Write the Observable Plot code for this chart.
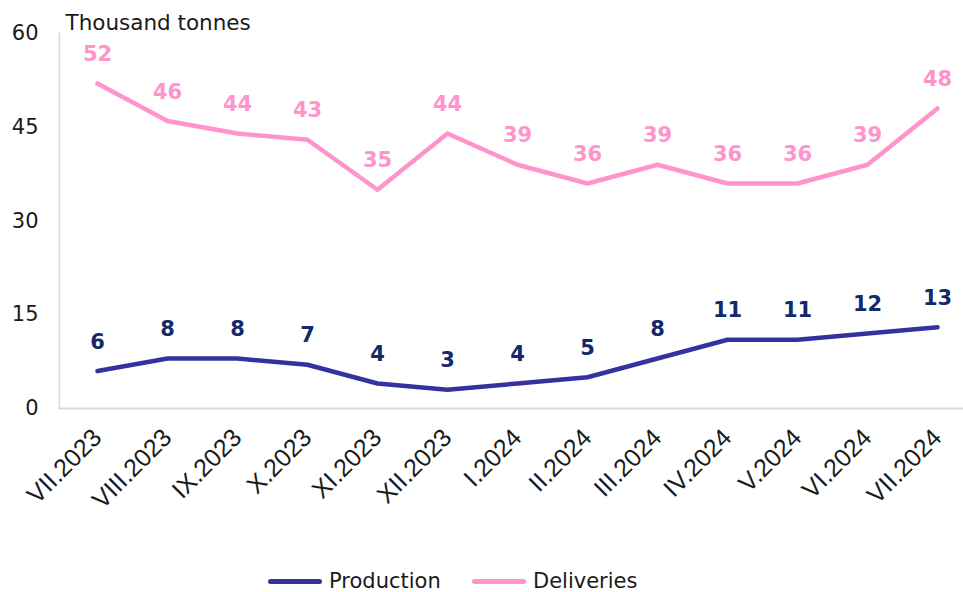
<!DOCTYPE html>
<html>
<head>
<meta charset="utf-8">
<script src="https://cdn.jsdelivr.net/npm/d3@7"></script>
<script src="https://cdn.jsdelivr.net/npm/@observablehq/plot@0.6"></script>
<style>
  body { margin: 0; background: #fff; }
  #chart { position: relative; width: 963px; height: 592px; }
  .legend { position: absolute; top: 570px; left: 0; width: 963px; font-family: "DejaVu Sans", Verdana, sans-serif; font-size: 21px; line-height: 22px; color: #1a1a1a; }
  .item { position: absolute; display: flex; align-items: center; height: 22px; }
  .swatch { display: inline-block; width: 54px; height: 5px; border-radius: 3px; margin-right: 7px; }
</style>
</head>
<body>
<div id="chart"></div>
<script>
const months = ["VII.2023","VIII.2023","IX.2023","X.2023","XI.2023","XII.2023","I.2024","II.2024","III.2024","IV.2024","V.2024","VI.2024","VII.2024"];
const production = [6,8,8,7,4,3,4,5,8,11,11,12,13];
const deliveries = [52,46,44,43,35,44,39,36,39,36,36,39,48];
const yTicks = [0,15,30,45,60];
const unitLabel = "Thousand tonnes";
const seriesNames = ["Production","Deliveries"];
const lineColors = {Production: "#3532a0", Deliveries: "#ff94cc"};
const labelColors = {Production: "#12296b", Deliveries: "#ff94cc"};

const rows = [];
months.forEach((m, i) => {
  rows.push({month: m, series: "Production", value: production[i]});
  rows.push({month: m, series: "Deliveries", value: deliveries[i]});
});

const plot = Plot.plot({
  width: 963,
  height: 540,
  marginLeft: 59,
  marginRight: 0,
  marginTop: 33,
  marginBottom: 132,
  style: {fontFamily: "DejaVu Sans, Verdana, sans-serif", background: "#fff", overflow: "visible"},
  x: {type: "point", domain: months, range: [93, 941], padding: 0},
  y: {domain: [0, 60]},
  marks: [
    Plot.frame({anchor: "left", stroke: "#d9d9d9", strokeWidth: 1.5}),
    Plot.frame({anchor: "bottom", stroke: "#d9d9d9", strokeWidth: 2}),
    Plot.axisY({ticks: yTicks, tickSize: 0, tickPadding: 21, fontSize: 21, label: null, fill: "#1a1a1a"}),
    Plot.axisX({tickSize: 0, tickPadding: 25, tickRotate: -45, fontSize: 25, label: null, fontFamily: "Liberation Sans, Arial, sans-serif", fill: "#1a1a1a"}),
    Plot.text([unitLabel], {frameAnchor: "top-left", dx: 6, dy: -19, textAnchor: "start", fontSize: 21.5, fill: "#1a1a1a"}),
    Plot.line(rows, {x: "month", y: "value", z: "series", stroke: d => lineColors[d.series], strokeWidth: 4.5, curve: "linear"}),
    Plot.text(rows, {x: "month", y: "value", text: d => String(d.value), dy: -29, fill: d => labelColors[d.series], fontSize: 21, fontWeight: "bold"})
  ]
});
document.getElementById("chart").appendChild(plot);

const legend = document.createElement("div");
legend.className = "legend";
const lefts = [268, 472];
seriesNames.forEach((s, i) => {
  const it = document.createElement("div");
  it.className = "item";
  it.style.left = lefts[i] + "px";
  it.innerHTML = `<span class="swatch" style="background:${lineColors[s]}"></span><span>${s}</span>`;
  legend.appendChild(it);
});
document.getElementById("chart").appendChild(legend);
</script>
</body>
</html>
